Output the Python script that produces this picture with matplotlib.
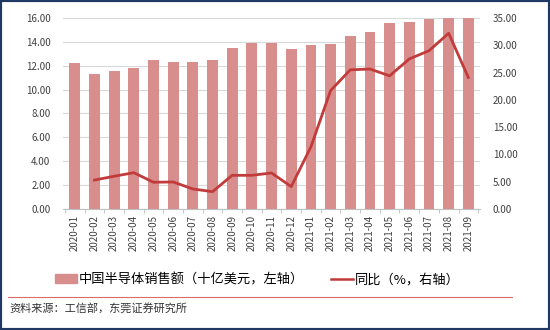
import matplotlib.pyplot as plt
from matplotlib.patches import Rectangle
from matplotlib.lines import Line2D

plt.rcParams['font.family'] = ['Noto Sans CJK SC', 'DejaVu Sans']

# ── Data ────────────────────────────────────────────────────────────────
months = ['2020-01', '2020-02', '2020-03', '2020-04', '2020-05', '2020-06',
          '2020-07', '2020-08', '2020-09', '2020-10', '2020-11', '2020-12',
          '2021-01', '2021-02', '2021-03', '2021-04', '2021-05', '2021-06',
          '2021-07', '2021-08', '2021-09']
sales = [12.25, 11.30, 11.56, 11.78, 12.48, 12.30, 12.30, 12.48, 13.45, 13.88,
         13.88, 13.37, 13.73, 13.79, 14.49, 14.80, 15.55, 15.69, 15.90, 16.20,
         16.30]
yoy = [None, 5.3, 6.0, 6.65, 4.9, 4.95, 3.67, 3.17, 6.17, 6.17,
       6.6, 4.1, 11.4, 21.7, 25.5, 25.65, 24.4, 27.5, 29.0, 32.2, 24.1]

bar_color = '#d98e8e'
line_color = '#c23b3b'

# ── Plot ────────────────────────────────────────────────────────────────
fig = plt.figure(figsize=(5.5, 3.3), dpi=100)
ax = fig.add_axes([0.1145, 0.3667, 0.7585, 0.5788])
x = list(range(len(months)))

ax.bar(x, sales, width=0.55, color=bar_color, zorder=2)
ax.set_ylim(0, 16)
ax.set_yticks(range(0, 17, 2))
ax.set_yticklabels([f'{v:.2f}' for v in range(0, 17, 2)], fontsize=7, color='#404040')
ax.grid(axis='y', color='#d9d9d9', linewidth=0.8, zorder=0)
ax.set_xlim(-0.6, len(months) - 0.4)
ax.set_xticks(x)
ax.set_xticklabels(months, rotation=90, fontsize=7, color='#404040')
ax.tick_params(axis='x', length=0, pad=4)
ax.tick_params(axis='y', length=0, pad=9)
ax.set_xticks([i + 0.5 for i in range(-1, len(months))], minor=True)
ax.tick_params(axis='x', which='minor', length=3, color='#bfbfbf')
for s in ['top', 'left', 'right']:
    ax.spines[s].set_visible(False)
ax.spines['bottom'].set_color('#bfbfbf')

ax2 = ax.twinx()
xs = [i for i, v in zip(x, yoy) if v is not None]
ys = [v for v in yoy if v is not None]
ax2.plot(xs, ys, color=line_color, linewidth=2, zorder=3)
ax2.set_ylim(0, 35)
ax2.set_yticks(range(0, 36, 5))
ax2.set_yticklabels([f'{v:.2f}' for v in range(0, 36, 5)], fontsize=7, color='#404040')
ax2.tick_params(axis='y', length=0, pad=9)
for s in ['top', 'left', 'right', 'bottom']:
    ax2.spines[s].set_visible(False)

# legend
handles = [Rectangle((0, 0), 1, 1, color=bar_color),
           Line2D([0], [0], color=line_color, linewidth=1.8)]
fig.legend(handles, ['中国半导体销售额（十亿美元，左轴）', '同比（%，右轴）'],
           loc='center', bbox_to_anchor=(0.468, 0.152), ncol=2, frameon=False,
           fontsize=9.5, handlelength=1.7, handletextpad=0.15, columnspacing=2.0)

# source line and border
fig.add_artist(Line2D([0.015, 0.93], [0.1, 0.1], color='#d96b6b', linewidth=0.8))
fig.text(0.018, 0.066, '资料来源：工信部，东莞证券研究所', fontsize=8, va='center',
         color='#333333')
fig.add_artist(Rectangle((0, 0), 1, 1, transform=fig.transFigure, fill=False,
                         edgecolor='#1f3864', linewidth=3))

plt.savefig('out.png', dpi=100)
